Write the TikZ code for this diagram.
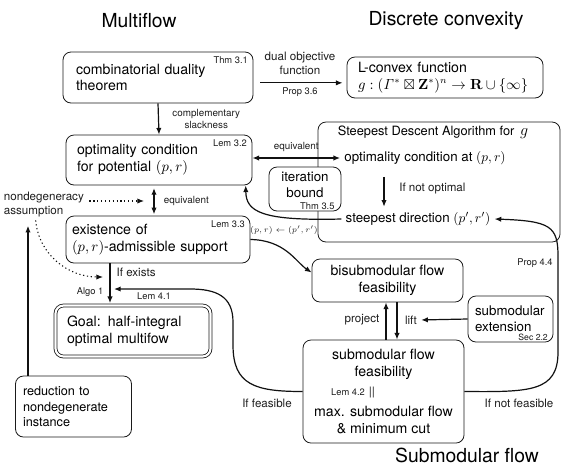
\documentclass[tikz,border=0pt]{standalone}
\usepackage{amsmath,amssymb}
\usepackage[no-math]{fontspec}
\setmainfont{TeX Gyre Heros}
\usetikzlibrary{arrows.meta,calc}

\definecolor{boxborder}  {HTML}{1A1A1A}
\definecolor{arrowcolor} {HTML}{111111}
\definecolor{labelcolor} {HTML}{1E1E1E}

\newcommand{\headfont}{\fontsize{14.5}{17}\selectfont}
\newcommand{\boxfont}{\fontsize{10.6}{12.6}\selectfont}
\newcommand{\sdafont}{\fontsize{10}{12}\selectfont}
\newcommand{\redfont}{\fontsize{9.5}{11.6}\selectfont}
\newcommand{\labelfont}{\fontsize{8.7}{10.5}\selectfont}
\newcommand{\smallfont}{\fontsize{7.4}{8.4}\selectfont}
\newcommand{\tagfont}{\fontsize{7}{8.4}\selectfont}

\tikzset{
  block/.style={rectangle, rounded corners=6pt, draw=boxborder,
    line width=0.6pt, fill=white, inner sep=0pt, align=left, font=\boxfont},
  tag/.style={font=\tagfont, text=labelcolor, inner xsep=4pt, inner ysep=3.5pt},
  sdatext/.style={font=\sdafont, inner sep=3pt},
  flowlabel/.style={font=\labelfont, text=labelcolor, inner sep=1pt},
  smalllabel/.style={font=\smallfont, text=labelcolor, inner sep=1pt, align=center},
  heading/.style={font=\headfont},
  arr/.style={-{Latex[length=5pt,width=4pt]}, line width=0.9pt, draw=arrowcolor},
  dblarr/.style={{Latex[length=5pt,width=4pt]}-{Latex[length=5pt,width=4pt]},
    line width=0.9pt, draw=arrowcolor},
  dotarr/.style={arr, dotted, line width=0.8pt}
}

\begin{document}
\begin{tikzpicture}[x=0.75pt, y=-0.75pt]
\useasboundingbox (0,0) rectangle (566,472);

%% ── Section headings ─────────────────────────────────────────────
\node[heading] (multiflow)  at (139,21)  {Multiflow};
\node[heading] (discrete)   at (446,21)  {Discrete convexity};
\node[heading] (submodular) at (467,455) {Submodular flow};

%% ── Multiflow side ───────────────────────────────────────────────
\node[block, minimum width=142.5pt, minimum height=38.25pt, text width=123pt]
  (duality) at (158,77.5) {combinatorial duality\\theorem};
\node[tag, anchor=north east] (thmdual) at (duality.north east) {Thm 3.1};

\node[block, minimum width=139.5pt, minimum height=37.5pt, text width=123pt]
  (optimality) at (159,160) {optimality condition\\for potential $(p,r)$};
\node[tag, anchor=north east] (lemopt) at (optimality.north east) {Lem 3.2};

\node[block, minimum width=138pt, minimum height=35.25pt, text width=129pt]
  (existence) at (158,239.5) {existence of\\$(p,r)$-admissible support};
\node[tag, anchor=north east] (lemexist) at (existence.north east) {Lem 3.3};

\node[block, double, double distance=1.6pt, minimum width=116.25pt,
  minimum height=38.25pt, text width=99pt]
  (goal) at (133,331) {Goal: half-integral\\optimal multifow};

\node[block, font=\redfont, minimum width=87pt, minimum height=45.75pt,
  text width=75.75pt]
  (reduction) at (73.5,406.5) {reduction to\\nondegenerate\\instance};

\node[flowlabel, font=\labelfont, align=left, anchor=west, inner sep=2pt]
  (nondeg) at (1,205) {nondegeneracy\\assumption};

%% ── Discrete convexity side ──────────────────────────────────────
\node[block, minimum width=147pt, minimum height=30.75pt, text width=130.5pt]
  (lconvex) at (445,77.5)
  {L-convex function\\$g:(\mathit{\Gamma}^{*}\boxtimes\mathbf{Z}^{*})^{n}\to\mathbf{R}\cup\{\infty\}$};

\node[block, minimum width=181.5pt, minimum height=90pt] (sdabox) at (439,182) {};
\node[sdatext, font=\fontsize{9.6}{11}\selectfont] (sdatitle) at (433,132)
  {Steepest Descent Algorithm for \,{\large$g$}};
\node[sdatext] (optat)    at (425,158) {optimality condition at $(p,r)$};
\node[sdatext] (steepdir) at (418,219) {steepest direction $(p',r')$};

\node[block, align=center, font=\sdafont, minimum width=54pt, minimum height=33pt]
  (iteration) at (305,189) {iteration\\bound\\[-5pt]};
\node[tag, anchor=south east, inner ysep=1pt, inner xsep=5pt]
  (thmiter) at (iteration.south east) {Thm 3.5};

%% ── Submodular flow side ─────────────────────────────────────────
\node[block, align=center, minimum width=113.25pt, minimum height=32.25pt]
  (bisub) at (387.5,280.5) {bisubmodular flow\\feasibility};

\node[block, font=\sdafont, minimum width=63.75pt, minimum height=34.5pt,
  text width=53.25pt]
  (extension) at (510.5,319) {submodular\\extension\\[-3pt]};
\node[tag, font=\fontsize{6.5}{7.5}\selectfont, anchor=south east, inner ysep=1pt,
  inner xsep=4pt]
  (secext) at (extension.south east) {Sec 2.2};

\node[block, align=center, minimum width=120.75pt, minimum height=77.25pt]
  (subflow) at (383.5,391.5)
  {submodular flow\\feasibility\\[18pt]max. submodular flow\\\& minimum cut};
\node[tag, inner sep=1pt] (lemflow) at (353,392) {Lem 4.2\hspace{3pt}{\labelfont ||}};

%% ── Helper coordinates ───────────────────────────────────────────
\coordinate (equivaxis)     at (154,0);
\coordinate (algoaxis)      at (110,0);
\coordinate (reductionaxis) at (28,0);
\coordinate (descentaxis)   at (384,0);
\coordinate (projectaxis)   at (386,0);
\coordinate (liftaxis)      at (397,0);
\coordinate (nondegtip)     at (144,201);
\coordinate (assumtip)      at (103,277);
\coordinate (lemtip)        at (114,289);

%% ── Connectors ───────────────────────────────────────────────────
\draw[arr, shorten <=5pt, shorten >=3pt]
  ([yshift=-4pt]duality.east) -- ([yshift=-4pt]lconvex.west)
  node[flowlabel, midway, above=5pt, align=center] (dualobj) {dual objective\\function}
  node[tag, midway, below=2pt, inner sep=1pt] (propdual) {Prop 3.6};

\draw[arr] (duality.south) -- (optimality.north)
  node[smalllabel, midway, right=9pt] (compslack) {complementary\\slackness};

\draw[dblarr] (optimality.east |- optat) -- (optat.west)
  node[smalllabel, midway, above=3pt] (equivh) {equivalent};

\draw[dblarr, shorten <=2pt, shorten >=1pt]
  (optimality.south -| equivaxis) -- (existence.north -| equivaxis)
  node[smalllabel, midway, right=6pt] (equivv) {equivalent};

\draw[arr, shorten <=6pt, shorten >=1pt]
  (optat.south -| descentaxis) -- (steepdir.north -| descentaxis)
  node[flowlabel, midway, right=10pt] (notopt) {If not optimal};

\draw[arr] (steepdir.west) .. controls (262,221) and (246,212)
  .. ([xshift=-5pt]optimality.south east);
\node[tag, font=\fontsize{6.5}{7.5}\selectfont, inner sep=1pt] (update) at (284,230)
  {$(p,r)\leftarrow(p',r')$};

\draw[dotarr, shorten <=2pt] (nondeg.east |- nondegtip) -- (nondegtip);
\draw[dotarr] ([xshift=26pt]nondeg.south west) to[out=-85,in=180] (assumtip);

\draw[arr, shorten >=4pt] (reduction.north -| reductionaxis) -- (nondeg.south -| reductionaxis);

\draw[arr, shorten >=1.5pt] (existence.south -| algoaxis) -- (goal.north -| algoaxis);
\node[flowlabel, anchor=west] (ifexists) at (115,272) {If exists};
\node[tag, anchor=east, inner sep=1pt] (algo) at (105,292) {Algo 1};

\draw[arr] (subflow.west) .. controls (255,391.5) and (233,385) .. (233,345)
  -- (233,322) .. controls (233,296) and (216,289) .. (190,289) -- (lemtip);
\node[tag, inner sep=1pt] (lemgoal) at (154,296) {Lem 4.1};
\node[flowlabel] (iffeas) at (267,403) {If feasible};

\draw[arr] (existence.east) .. controls (285,240) and (296,262) .. ([yshift=6pt]bisub.west);

\draw[arr] (subflow.north -| projectaxis) -- (bisub.south -| projectaxis);
\draw[arr] (bisub.south -| liftaxis) -- (subflow.north -| liftaxis);
\node[flowlabel, anchor=east] (project) at (381,320) {project};
\node[flowlabel] (lift) at (411,320) {lift};
\draw[arr, shorten >=2pt] (extension.west) -- (lift.east);

\draw[arr] (subflow.east) .. controls (530,392) and (558,392) .. (558,352)
  -- (558,256) .. controls (558,226) and (550,221) .. (steepdir.east);
\node[tag, inner sep=1pt] (propsteep) at (535,263) {Prop 4.4};
\node[flowlabel] (ifnotfeas) at (519,403) {If not feasible};

\end{tikzpicture}
\end{document}
